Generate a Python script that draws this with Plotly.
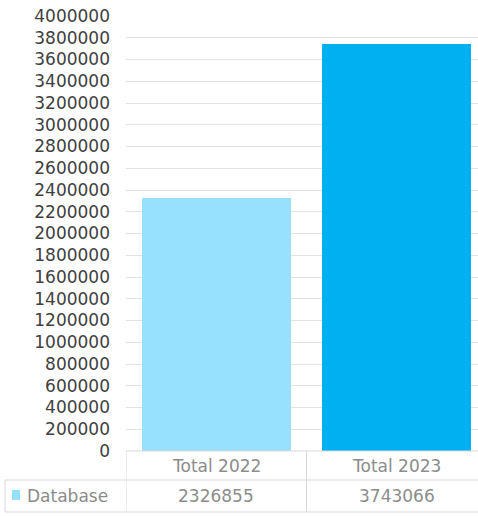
import plotly.graph_objects as go

# Chart data
categories = ["Total 2022", "Total 2023"]
series_name = "Database"
values = [2326855, 3743066]
bar_colors = ["#97E1FF", "#00B0F0"]
y_ticks = list(range(0, 4000001, 200000))

W, H = 478, 516
ML, MR, MT, MB = 126, 0, 16, 65
plot_w = W - ML - MR
plot_h = H - MT - MB
cat_w = 180.5  # pixel width of one category slot

x_pos = list(range(len(categories)))
x_max = -0.5 + plot_w / cat_w

fig = go.Figure()
fig.add_trace(go.Bar(
    x=x_pos, y=values, width=0.826,
    marker=dict(color=bar_colors, line=dict(width=0)),
    name=series_name, showlegend=False, hoverinfo="skip",
))

def py(px):
    """pixel row (from top of page) -> paper y"""
    return (H - MB - px) / plot_h

def pxx(px):
    """pixel column -> paper x"""
    return (px - ML) / plot_w

line_col = "#D9D9D9"
shapes = []
# data table grid
shapes.append(dict(type="line", xref="paper", yref="paper",
                   x0=0, x1=1, y0=py(451), y1=py(451), line=dict(color=line_col, width=1)))
shapes.append(dict(type="line", xref="paper", yref="paper",
                   x0=pxx(5), x1=1, y0=py(480), y1=py(480), line=dict(color=line_col, width=1)))
shapes.append(dict(type="line", xref="paper", yref="paper",
                   x0=pxx(5), x1=1, y0=py(512), y1=py(512), line=dict(color=line_col, width=1)))
shapes.append(dict(type="line", xref="paper", yref="paper",
                   x0=pxx(5), x1=pxx(5), y0=py(480), y1=py(512), line=dict(color=line_col, width=1)))
for b in [-0.5] + [i + 0.5 for i in x_pos]:
    shapes.append(dict(type="line", xref="x", yref="paper",
                       x0=b, x1=b, y0=py(451), y1=py(512), line=dict(color=line_col, width=1)))
# legend key
shapes.append(dict(type="rect", xref="paper", yref="paper",
                   x0=pxx(12), x1=pxx(20), y0=py(500), y1=py(490),
                   fillcolor=bar_colors[0], line=dict(width=0)))

table_font = dict(family="DejaVu Sans", size=17, color="#8C8C8C")
annotations = []
for i, (c, v) in enumerate(zip(categories, values)):
    annotations.append(dict(x=i, y=py(466), xref="x", yref="paper", text=c,
                            showarrow=False, font=table_font, xanchor="center", yanchor="middle"))
    annotations.append(dict(x=i, y=py(496), xref="x", yref="paper", text=str(v),
                            showarrow=False, font=table_font, xanchor="center", yanchor="middle"))
annotations.append(dict(x=pxx(25), y=py(496), xref="paper", yref="paper", text=series_name,
                        showarrow=False, font=table_font, xanchor="left", yanchor="middle"))

fig.update_layout(
    width=W, height=H,
    margin=dict(l=ML, r=MR, t=MT, b=MB, pad=0),
    paper_bgcolor="white", plot_bgcolor="white",
    bargap=0,
    xaxis=dict(range=[-0.5, x_max], showticklabels=False, showgrid=False,
               zeroline=False, showline=False, fixedrange=True),
    yaxis=dict(range=[0, 4000000], tickvals=y_ticks, tickformat="d",
               showgrid=True, gridcolor="#E2E2E2", gridwidth=1,
               zeroline=False, showline=False, ticks="",
               ticklabelstandoff=15,
               tickfont=dict(family="DejaVu Sans", size=17, color="#404040")),
    shapes=shapes, annotations=annotations,
    showlegend=False,
)

fig.write_html("out.html")
